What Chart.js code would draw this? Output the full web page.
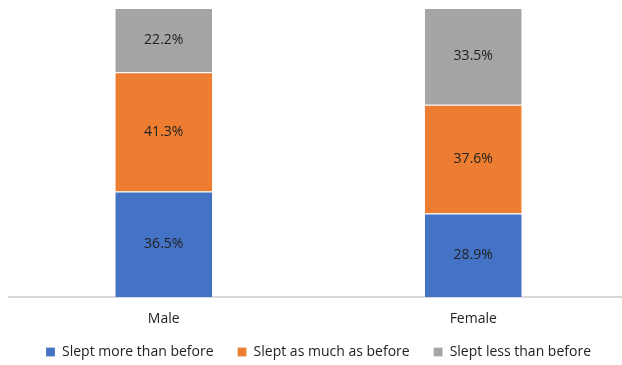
<!DOCTYPE html>
<html>
<head>
<meta charset="utf-8">
<script src="https://cdn.jsdelivr.net/npm/chart.js@4"></script>
<style>
  html, body { margin: 0; padding: 0; background: #fff; overflow: hidden; }
  #wrap { width: 628px; height: 365px; }
</style>
</head>
<body>
<div id="wrap"><canvas id="myChart"></canvas></div>
<script>
const labels = ["Male", "Female"];
const sleptMore = [36.5, 28.9];
const sleptSame = [41.3, 37.6];
const sleptLess = [22.2, 33.5];

const fontFamily = "'Open Sans', 'Liberation Sans', sans-serif";
const legendPad = 24;

// draws the value in the middle of each segment
const centerLabels = {
    id: "centerLabels",
    afterDatasetsDraw(chart) {
        const ctx = chart.ctx;
        ctx.save();
        ctx.font = "14px " + fontFamily;
        ctx.fillStyle = "#222";
        ctx.textAlign = "center";
        ctx.textBaseline = "middle";
        chart.data.datasets.forEach((ds, i) => {
            chart.getDatasetMeta(i).data.forEach((bar, j) => {
                const p = bar.getProps(["x", "y", "base"], true);
                ctx.fillText(ds.data[j].toFixed(1) + "%", p.x, (p.y + p.base) / 2);
            });
        });
        ctx.restore();
    },
};

// legend padding is wide between items, trim the extra below it
const tightLegend = {
    id: "tightLegend",
    beforeInit(chart) {
        const fit = chart.legend.fit;
        chart.legend.fit = function () {
            fit.call(this);
            this.height = legendPad + 20;
        };
    },
    afterLayout(chart) {
        // x labels hang into the legend box, don't clip them
        chart.scales.x.bottom = chart.height;
    },
};

const data = {
    labels: labels,
    datasets: [
        { label: "Slept more than before", data: sleptMore, backgroundColor: "#4472C4" },
        { label: "Slept as much as before", data: sleptSame, backgroundColor: "#ED7D31" },
        { label: "Slept less than before", data: sleptLess, backgroundColor: "#A5A5A5" },
    ],
};
data.datasets.forEach((d) => {
    d.borderColor = "#ffffff";
    d.borderWidth = { top: 1, bottom: 0, left: 0, right: 0 };
    d.borderSkipped = false;
    d.barPercentage = 1;
    d.categoryPercentage = 0.313;
});

const config = {
    type: "bar",
    data,
    options: {
        responsive: true,
        maintainAspectRatio: false,
        animation: false,
        layout: {
            padding: { top: 8, left: 9, right: 0, bottom: 0 },
        },
        plugins: {
            legend: {
                position: "bottom",
                labels: {
                    boxWidth: 9,
                    boxHeight: 9,
                    padding: legendPad,
                    color: "#222",
                    font: { family: fontFamily, size: 14 },
                },
            },
            tooltip: { enabled: false },
        },
        scales: {
            x: {
                stacked: true,
                grid: { display: false },
                border: { display: true, color: "#d9d9d9", width: 2 },
                ticks: {
                    color: "#222",
                    padding: 6,
                    font: { family: fontFamily, size: 14 },
                },
                afterFit: (scale) => {
                    scale.height = 24;
                },
            },
            y: {
                stacked: true,
                min: 0,
                max: 100,
                display: false,
            },
        },
    },
    plugins: [centerLabels, tightLegend],
};

const ctx = document.getElementById("myChart").getContext("2d");
const stackedBar = new Chart(ctx, config);
</script>
</body>
</html>
